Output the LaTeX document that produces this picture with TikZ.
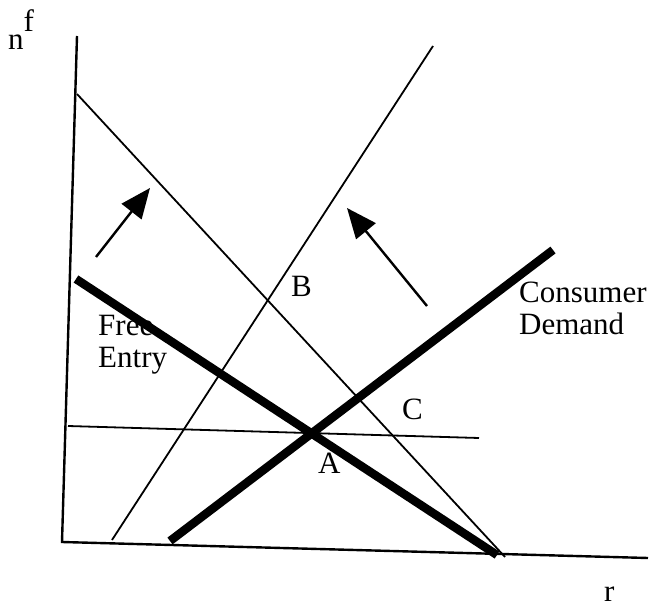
\documentclass[tikz,border=0pt]{standalone}
\usepackage{fontspec}
\setmainfont{Liberation Serif}
\usetikzlibrary{arrows.meta}
\begin{document}
\begin{tikzpicture}[x=1pt,y=-1pt,
  axis/.style={line width=2.4pt},
  thinline/.style={line width=1.8pt},
  thickline/.style={line width=8.5pt},
  shiftarrow/.style={line width=2.4pt,-{Triangle[length=30pt,width=25pt]}},
  lbl/.style={font=\fontsize{31}{32}\selectfont, inner sep=0pt, anchor=base west, align=left}]
\useasboundingbox (0,0) rectangle (654,607);
% axes
\coordinate (ytop) at (77,36);
\coordinate (orig) at (62,542);
\coordinate (xend) at (648,558);
\draw[axis] (ytop) -- (orig) -- (xend);
% labels behind lines
\node[lbl] (ylab) at (8,50) {n\raisebox{18pt}{f}};
\node[lbl] (xlab) at (604,601) {r};
\node[lbl] (fe) at (98,367) {Free\\Entry};
\node[lbl] (cd) at (519,334) {Consumer\\Demand};
\node[lbl] (lA) at (318,473) {A};
\node[lbl] (lB) at (291,296) {B};
\node[lbl] (lC) at (402,419) {C};
% thin lines
\coordinate (d1) at (77,94);
\coordinate (d2) at (505,557);
\draw[thinline] (d1) -- (d2);
\coordinate (u1) at (112,540);
\coordinate (u2) at (433,46);
\draw[thinline] (u1) -- (u2);
\coordinate (h1) at (68,426);
\coordinate (h2) at (479,438);
\draw[thinline] (h1) -- (h2);
% thick lines
\coordinate (fe1) at (76,279);
\coordinate (fe2) at (497,555);
\draw[thickline] (fe1) -- (fe2);
\coordinate (cd1) at (170,541);
\coordinate (cd2) at (553,250);
\draw[thickline] (cd1) -- (cd2);
% arrows
\coordinate (a1s) at (96,257);
\coordinate (a1e) at (150,188);
\draw[shiftarrow] (a1s) -- (a1e);
\coordinate (a2s) at (427,306);
\coordinate (a2e) at (347,208);
\draw[shiftarrow] (a2s) -- (a2e);
\end{tikzpicture}
\end{document}
